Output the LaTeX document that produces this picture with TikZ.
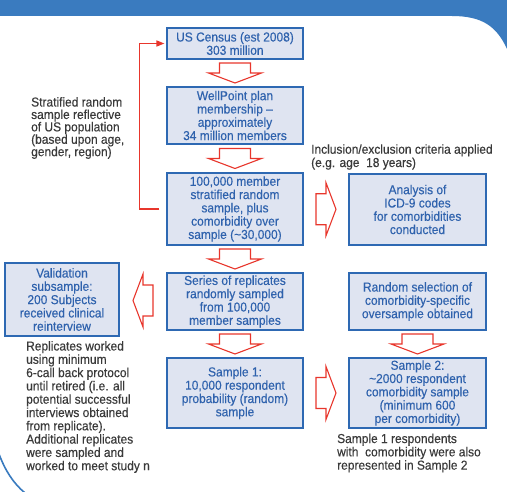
\documentclass[tikz,border=0pt]{standalone}
\usepackage{fontspec}
\setmainfont{Liberation Sans}[FakeStretch=0.92, FakeBold=0.3]
\usetikzlibrary{calc,arrows.meta}
\definecolor{hdrblue}{HTML}{3A7BBF}
\definecolor{boxfill}{HTML}{DFE4F1}
\definecolor{boxline}{HTML}{2E69B3}
\definecolor{boxtext}{HTML}{2F62AD}
\definecolor{redline}{HTML}{E8362C}
\definecolor{graytext}{HTML}{3A3A3A}
\tikzset{
  flowbox/.style={draw=boxline, line width=1.1pt, fill=boxfill, text=boxtext,
    align=center, inner sep=0pt, font=\fontsize{13}{13.3}\selectfont},
  colbox/.style={flowbox, minimum width=136pt},
  rcolbox/.style={flowbox, minimum width=137pt},
  note/.style={text=graytext, align=left, inner sep=0pt, anchor=west,
    font=\fontsize{13}{13.3}\selectfont},
  blockarrow/.style={draw=redline, line width=1.1pt, fill=white, line join=miter},
  redconn/.style={draw=redline, line width=1.2pt,
    -{Triangle[length=8pt,width=6pt]}},
}
\newcommand\blkdown[2]{%
  \coordinate (m) at ($(#1.south)!0.5!(#2.north)$);
  \draw[blockarrow, shift={(m)}] (-15.5,-10) -- (15.5,-10) -- (15.5,0) -- (26.5,0)
    -- (0,10) -- (-26.5,0) -- (-15.5,0) -- cycle;}
\newcommand\blkright[2]{%
  \coordinate (m) at ($(#1.east)!0.5!(#2.west)$);
  \draw[blockarrow, shift={(m)}] (-10,-15.5) -- (0,-15.5) -- (0,-26.5) -- (10,0)
    -- (0,26.5) -- (0,15.5) -- (-10,15.5) -- cycle;}
\newcommand\blkleft[2]{%
  \coordinate (m) at ($(#1.west)!0.5!(#2.east)$);
  \draw[blockarrow, shift={(m)}] (10,-15.5) -- (0,-15.5) -- (0,-26.5) -- (-10,0)
    -- (0,26.5) -- (0,15.5) -- (10,15.5) -- cycle;}
\begin{document}
\begin{tikzpicture}[x=1pt, y=-1pt]
\useasboundingbox (0,0) rectangle (507,492);
\fill[white] (0,0) rectangle (507,492);
% header band with rounded top-right corner
\fill[hdrblue] (0,0) -- (507,0) -- (507,49) .. controls (497,27) and (483,16) .. (452,16)
  -- (0,16) -- cycle;
% bottom-left border arc
\draw[hdrblue, line width=1.6pt] (-1,454) .. controls (5,470) and (13,483) .. (25,493);

% boxes
\node[colbox, minimum height=31pt] (census) at (235,43.5) {US Census (est 2008)\\303 million};
\node[colbox, minimum height=57pt] (wellpoint) at (235,115.5) {WellPoint plan\\membership –\\approximately\\34 million members};
\node[colbox, minimum height=72pt] (big) at (235,209) {100,000 member\\stratified random\\sample, plus\\comorbidity over\\sample (\textasciitilde30,000)};
\node[colbox, minimum height=57pt] (series) at (235,301.5) {Series of replicates\\randomly sampled\\from 100,000\\member samples};
\node[colbox, minimum height=70pt] (s1) at (235,393) {Sample 1:\\10,000 respondent\\probability (random)\\sample};
\node[flowbox, minimum width=114pt, minimum height=73pt] (valid) at (62,299.5) {Validation\\subsample:\\200 Subjects\\received clinical\\reinterview};
\node[rcolbox, minimum height=71pt] (analysis) at (417.5,209.5) {Analysis of\\ICD-9 codes\\for comorbidities\\conducted};
\node[rcolbox, minimum height=57pt] (random) at (417.5,301.5) {Random selection of\\comorbidity-specific\\oversample obtained};
\node[rcolbox, minimum height=70pt] (s2) at (417.5,393) {Sample 2:\\\textasciitilde2000 respondent\\comorbidity sample\\(minimum 600\\per comorbidity)};

% notes
\node[note, font=\fontsize{13}{12.4}\selectfont] (strat) at (31,128) {Stratified random\\sample reflective\\of US population\\(based upon age,\\gender, region)};
\node[note] (incl) at (311,157) {Inclusion/exclusion criteria applied\\(e.g. age\ \ 18 years)};
\node[note] (repl) at (26,407) {Replicates worked\\using minimum\\6-call back protocol\\until retired (i.e. all\\potential successful\\interviews obtained\\from replicate).\\Additional replicates\\were sampled and\\worked to meet study n};
\node[note] (s1note) at (337,453) {Sample 1 respondents\\with\ \ comorbidity were also\\represented in Sample 2};

% block arrows
\blkdown{census}{wellpoint}
\blkdown{wellpoint}{big}
\blkdown{big}{series}
\blkdown{series}{s1}
\blkdown{random}{s2}
\blkright{big}{analysis}
\blkright{s1}{s2}
\blkleft{series}{valid}

% red feedback connector
\draw[redconn] ([xshift=-7pt]big.west) -- ++(-20,0) |- ([xshift=-2pt]census.west);
\end{tikzpicture}
\end{document}
